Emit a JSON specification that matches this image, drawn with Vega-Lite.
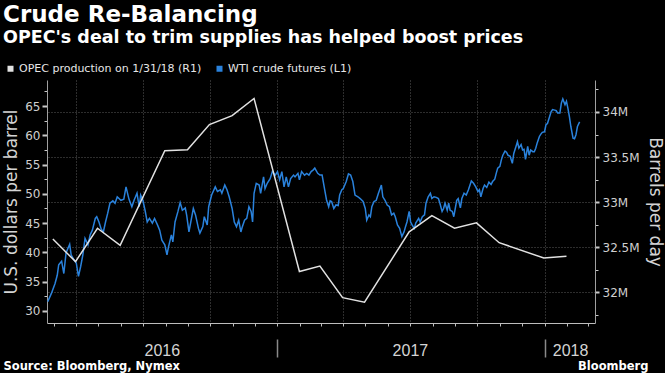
{
  "$schema": "https://vega.github.io/schema/vega-lite/v6.json",
  "width": 548,
  "height": 243,
  "autosize": {"type": "none"},
  "padding": {"left": 47, "top": 80, "right": 70, "bottom": 50},
  "background": "#000000",
  "title": {
    "text": "Crude Re-Balancing",
    "subtitle": "OPEC's deal to trim supplies has helped boost prices",
    "anchor": "start",
    "frame": "group",
    "dx": -44,
    "offset": 17,
    "font": "DejaVu Sans",
    "fontSize": 23,
    "fontWeight": "bold",
    "color": "#ffffff",
    "subtitleFont": "DejaVu Sans",
    "subtitleFontSize": 17.5,
    "subtitleFontWeight": "bold",
    "subtitleColor": "#ffffff",
    "subtitlePadding": 2
  },
  "datasets": {
    "wti": [
      {"date": "2016-02-22", "usd": 31.6}, {"date": "2016-02-27", "usd": 33.0}, {"date": "2016-03-03", "usd": 34.7},
      {"date": "2016-03-06", "usd": 36.1}, {"date": "2016-03-08", "usd": 37.9}, {"date": "2016-03-10", "usd": 38.2},
      {"date": "2016-03-12", "usd": 38.5}, {"date": "2016-03-15", "usd": 36.4}, {"date": "2016-03-18", "usd": 39.9},
      {"date": "2016-03-23", "usd": 41.4}, {"date": "2016-03-25", "usd": 39.6}, {"date": "2016-03-29", "usd": 38.7},
      {"date": "2016-04-01", "usd": 38.2}, {"date": "2016-04-04", "usd": 35.9}, {"date": "2016-04-07", "usd": 37.6},
      {"date": "2016-04-10", "usd": 39.6}, {"date": "2016-04-13", "usd": 42.4}, {"date": "2016-04-17", "usd": 41.3},
      {"date": "2016-04-20", "usd": 43.0}, {"date": "2016-04-23", "usd": 43.8}, {"date": "2016-04-27", "usd": 45.8},
      {"date": "2016-04-29", "usd": 46.1}, {"date": "2016-05-02", "usd": 45.2}, {"date": "2016-05-05", "usd": 44.0},
      {"date": "2016-05-08", "usd": 43.5}, {"date": "2016-05-11", "usd": 45.2}, {"date": "2016-05-14", "usd": 46.7},
      {"date": "2016-05-17", "usd": 48.4}, {"date": "2016-05-21", "usd": 48.8}, {"date": "2016-05-24", "usd": 48.4},
      {"date": "2016-05-27", "usd": 49.5}, {"date": "2016-06-01", "usd": 48.9}, {"date": "2016-06-05", "usd": 49.1},
      {"date": "2016-06-08", "usd": 51.2}, {"date": "2016-06-12", "usd": 49.1}, {"date": "2016-06-16", "usd": 47.8},
      {"date": "2016-06-19", "usd": 48.9}, {"date": "2016-06-21", "usd": 49.5}, {"date": "2016-06-23", "usd": 50.1},
      {"date": "2016-06-26", "usd": 47.8}, {"date": "2016-06-28", "usd": 49.8}, {"date": "2016-07-01", "usd": 48.9},
      {"date": "2016-07-04", "usd": 47.2}, {"date": "2016-07-07", "usd": 45.2}, {"date": "2016-07-10", "usd": 45.8},
      {"date": "2016-07-14", "usd": 45.0}, {"date": "2016-07-17", "usd": 45.8}, {"date": "2016-07-21", "usd": 44.7},
      {"date": "2016-07-24", "usd": 43.8}, {"date": "2016-07-27", "usd": 42.1}, {"date": "2016-07-31", "usd": 41.3},
      {"date": "2016-08-03", "usd": 39.6}, {"date": "2016-08-05", "usd": 40.9}, {"date": "2016-08-09", "usd": 43.0},
      {"date": "2016-08-11", "usd": 41.8}, {"date": "2016-08-14", "usd": 45.2}, {"date": "2016-08-18", "usd": 47.0},
      {"date": "2016-08-21", "usd": 48.5}, {"date": "2016-08-24", "usd": 47.2}, {"date": "2016-08-28", "usd": 47.6},
      {"date": "2016-08-30", "usd": 46.3}, {"date": "2016-09-02", "usd": 43.5}, {"date": "2016-09-08", "usd": 47.5},
      {"date": "2016-09-11", "usd": 46.4}, {"date": "2016-09-15", "usd": 44.1}, {"date": "2016-09-17", "usd": 43.3},
      {"date": "2016-09-21", "usd": 44.4}, {"date": "2016-09-23", "usd": 46.1}, {"date": "2016-09-27", "usd": 44.7},
      {"date": "2016-09-29", "usd": 47.8}, {"date": "2016-10-03", "usd": 49.8}, {"date": "2016-10-08", "usd": 51.2},
      {"date": "2016-10-11", "usd": 50.4}, {"date": "2016-10-15", "usd": 50.7}, {"date": "2016-10-17", "usd": 50.1},
      {"date": "2016-10-21", "usd": 51.5}, {"date": "2016-10-24", "usd": 50.7}, {"date": "2016-10-27", "usd": 49.5},
      {"date": "2016-10-31", "usd": 47.5}, {"date": "2016-11-03", "usd": 45.2}, {"date": "2016-11-06", "usd": 44.4},
      {"date": "2016-11-09", "usd": 45.5}, {"date": "2016-11-12", "usd": 43.5}, {"date": "2016-11-14", "usd": 44.4},
      {"date": "2016-11-17", "usd": 45.5}, {"date": "2016-11-20", "usd": 45.8}, {"date": "2016-11-23", "usd": 47.8},
      {"date": "2016-11-26", "usd": 47.0}, {"date": "2016-11-28", "usd": 45.2}, {"date": "2016-11-30", "usd": 50.1},
      {"date": "2016-12-03", "usd": 51.8}, {"date": "2016-12-07", "usd": 51.5}, {"date": "2016-12-09", "usd": 50.1},
      {"date": "2016-12-13", "usd": 52.9}, {"date": "2016-12-15", "usd": 50.9}, {"date": "2016-12-18", "usd": 51.8},
      {"date": "2016-12-22", "usd": 52.6}, {"date": "2016-12-25", "usd": 53.8}, {"date": "2016-12-29", "usd": 53.2},
      {"date": "2017-01-01", "usd": 53.8}, {"date": "2017-01-04", "usd": 52.4}, {"date": "2017-01-07", "usd": 53.8},
      {"date": "2017-01-10", "usd": 51.2}, {"date": "2017-01-13", "usd": 52.9}, {"date": "2017-01-16", "usd": 51.2},
      {"date": "2017-01-19", "usd": 52.6}, {"date": "2017-01-23", "usd": 53.2}, {"date": "2017-01-25", "usd": 52.9},
      {"date": "2017-01-29", "usd": 53.5}, {"date": "2017-01-31", "usd": 52.4}, {"date": "2017-02-03", "usd": 53.8},
      {"date": "2017-02-07", "usd": 53.2}, {"date": "2017-02-10", "usd": 53.5}, {"date": "2017-02-13", "usd": 53.2},
      {"date": "2017-02-16", "usd": 53.8}, {"date": "2017-02-19", "usd": 54.1}, {"date": "2017-02-21", "usd": 54.4},
      {"date": "2017-02-25", "usd": 53.5}, {"date": "2017-02-28", "usd": 53.2}, {"date": "2017-03-03", "usd": 53.2},
      {"date": "2017-03-07", "usd": 50.4}, {"date": "2017-03-09", "usd": 49.0}, {"date": "2017-03-12", "usd": 47.8},
      {"date": "2017-03-14", "usd": 48.8}, {"date": "2017-03-16", "usd": 48.7}, {"date": "2017-03-19", "usd": 47.5},
      {"date": "2017-03-22", "usd": 48.1}, {"date": "2017-03-25", "usd": 48.0}, {"date": "2017-03-27", "usd": 49.8},
      {"date": "2017-03-30", "usd": 50.7}, {"date": "2017-04-01", "usd": 50.9}, {"date": "2017-04-05", "usd": 52.1},
      {"date": "2017-04-08", "usd": 53.4}, {"date": "2017-04-11", "usd": 53.2}, {"date": "2017-04-14", "usd": 52.1},
      {"date": "2017-04-17", "usd": 49.8}, {"date": "2017-04-21", "usd": 49.5}, {"date": "2017-04-24", "usd": 49.2},
      {"date": "2017-04-28", "usd": 48.7}, {"date": "2017-05-01", "usd": 47.5}, {"date": "2017-05-03", "usd": 45.5},
      {"date": "2017-05-06", "usd": 46.4}, {"date": "2017-05-08", "usd": 46.1}, {"date": "2017-05-10", "usd": 47.8},
      {"date": "2017-05-13", "usd": 48.7}, {"date": "2017-05-16", "usd": 48.9}, {"date": "2017-05-19", "usd": 50.1},
      {"date": "2017-05-23", "usd": 51.5}, {"date": "2017-05-25", "usd": 49.5}, {"date": "2017-05-28", "usd": 48.9},
      {"date": "2017-05-31", "usd": 48.1}, {"date": "2017-06-03", "usd": 47.8}, {"date": "2017-06-06", "usd": 46.4},
      {"date": "2017-06-09", "usd": 46.7}, {"date": "2017-06-11", "usd": 46.1}, {"date": "2017-06-14", "usd": 44.7},
      {"date": "2017-06-17", "usd": 44.1}, {"date": "2017-06-20", "usd": 42.7}, {"date": "2017-06-23", "usd": 43.5},
      {"date": "2017-06-25", "usd": 44.4}, {"date": "2017-06-27", "usd": 45.2}, {"date": "2017-06-30", "usd": 47.0},
      {"date": "2017-07-02", "usd": 45.2}, {"date": "2017-07-04", "usd": 44.7}, {"date": "2017-07-07", "usd": 44.1},
      {"date": "2017-07-09", "usd": 45.0}, {"date": "2017-07-13", "usd": 45.8}, {"date": "2017-07-15", "usd": 45.2},
      {"date": "2017-07-18", "usd": 46.1}, {"date": "2017-07-21", "usd": 46.4}, {"date": "2017-07-23", "usd": 48.4},
      {"date": "2017-07-26", "usd": 49.5}, {"date": "2017-07-29", "usd": 50.1}, {"date": "2017-07-31", "usd": 49.2},
      {"date": "2017-08-03", "usd": 49.5}, {"date": "2017-08-06", "usd": 49.4}, {"date": "2017-08-09", "usd": 49.2},
      {"date": "2017-08-11", "usd": 48.4}, {"date": "2017-08-14", "usd": 47.0}, {"date": "2017-08-16", "usd": 47.5},
      {"date": "2017-08-18", "usd": 48.4}, {"date": "2017-08-21", "usd": 47.2}, {"date": "2017-08-23", "usd": 48.4},
      {"date": "2017-08-25", "usd": 47.2}, {"date": "2017-08-28", "usd": 47.0}, {"date": "2017-08-30", "usd": 46.1},
      {"date": "2017-09-01", "usd": 47.5}, {"date": "2017-09-03", "usd": 48.9}, {"date": "2017-09-05", "usd": 49.2},
      {"date": "2017-09-08", "usd": 47.6}, {"date": "2017-09-10", "usd": 49.2}, {"date": "2017-09-13", "usd": 50.1},
      {"date": "2017-09-16", "usd": 49.8}, {"date": "2017-09-19", "usd": 50.7}, {"date": "2017-09-23", "usd": 52.2},
      {"date": "2017-09-26", "usd": 51.8}, {"date": "2017-09-29", "usd": 51.2}, {"date": "2017-10-02", "usd": 50.4},
      {"date": "2017-10-04", "usd": 50.7}, {"date": "2017-10-06", "usd": 49.5}, {"date": "2017-10-09", "usd": 50.9},
      {"date": "2017-10-11", "usd": 51.5}, {"date": "2017-10-14", "usd": 51.1}, {"date": "2017-10-17", "usd": 52.0},
      {"date": "2017-10-20", "usd": 51.6}, {"date": "2017-10-22", "usd": 52.1}, {"date": "2017-10-25", "usd": 52.5},
      {"date": "2017-10-27", "usd": 53.5}, {"date": "2017-10-29", "usd": 54.4}, {"date": "2017-11-01", "usd": 54.7},
      {"date": "2017-11-03", "usd": 55.8}, {"date": "2017-11-05", "usd": 56.6}, {"date": "2017-11-08", "usd": 57.3},
      {"date": "2017-11-10", "usd": 57.1}, {"date": "2017-11-12", "usd": 56.6}, {"date": "2017-11-15", "usd": 56.4},
      {"date": "2017-11-18", "usd": 55.2}, {"date": "2017-11-20", "usd": 56.9}, {"date": "2017-11-23", "usd": 58.1},
      {"date": "2017-11-25", "usd": 58.9}, {"date": "2017-11-27", "usd": 57.8}, {"date": "2017-11-30", "usd": 58.4},
      {"date": "2017-12-02", "usd": 57.5}, {"date": "2017-12-04", "usd": 57.6}, {"date": "2017-12-06", "usd": 55.9},
      {"date": "2017-12-09", "usd": 58.1}, {"date": "2017-12-11", "usd": 56.6}, {"date": "2017-12-13", "usd": 57.5},
      {"date": "2017-12-16", "usd": 57.2}, {"date": "2017-12-18", "usd": 57.2}, {"date": "2017-12-20", "usd": 57.8},
      {"date": "2017-12-22", "usd": 58.7}, {"date": "2017-12-25", "usd": 59.8}, {"date": "2017-12-27", "usd": 60.2},
      {"date": "2017-12-29", "usd": 60.5}, {"date": "2018-01-01", "usd": 60.6}, {"date": "2018-01-03", "usd": 61.8},
      {"date": "2018-01-05", "usd": 62.0}, {"date": "2018-01-08", "usd": 63.2}, {"date": "2018-01-10", "usd": 64.0},
      {"date": "2018-01-12", "usd": 64.4}, {"date": "2018-01-15", "usd": 64.3}, {"date": "2018-01-17", "usd": 64.2},
      {"date": "2018-01-19", "usd": 63.8}, {"date": "2018-01-22", "usd": 63.8}, {"date": "2018-01-24", "usd": 65.5},
      {"date": "2018-01-26", "usd": 66.2}, {"date": "2018-01-29", "usd": 65.2}, {"date": "2018-01-31", "usd": 65.8},
      {"date": "2018-02-02", "usd": 64.6}, {"date": "2018-02-04", "usd": 63.2}, {"date": "2018-02-06", "usd": 61.5},
      {"date": "2018-02-09", "usd": 59.5}, {"date": "2018-02-11", "usd": 59.4}, {"date": "2018-02-13", "usd": 60.1},
      {"date": "2018-02-15", "usd": 61.5}, {"date": "2018-02-18", "usd": 62.3}
    ],
    "opec": [
      {"date": "2016-02-29", "mbpd": 32.59}, {"date": "2016-03-31", "mbpd": 32.34}, {"date": "2016-04-30", "mbpd": 32.71},
      {"date": "2016-05-31", "mbpd": 32.52}, {"date": "2016-07-31", "mbpd": 33.57}, {"date": "2016-08-31", "mbpd": 33.58},
      {"date": "2016-09-30", "mbpd": 33.86}, {"date": "2016-10-31", "mbpd": 33.96}, {"date": "2016-11-30", "mbpd": 34.15},
      {"date": "2017-01-31", "mbpd": 32.23}, {"date": "2017-02-28", "mbpd": 32.29}, {"date": "2017-03-31", "mbpd": 31.94},
      {"date": "2017-04-30", "mbpd": 31.89}, {"date": "2017-06-30", "mbpd": 32.67}, {"date": "2017-07-31", "mbpd": 32.85},
      {"date": "2017-08-31", "mbpd": 32.71}, {"date": "2017-09-30", "mbpd": 32.77}, {"date": "2017-10-31", "mbpd": 32.55},
      {"date": "2017-12-31", "mbpd": 32.38}, {"date": "2018-01-31", "mbpd": 32.40}
    ]
  },
  "layer": [
    {
      "data": {"name": "wti"},
      "mark": {"type": "line", "strokeWidth": 1.5},
      "encoding": {
        "x": {
          "field": "date",
          "type": "temporal",
          "scale": {
            "type": "utc",
            "domain": [
              {"year": 2016, "month": 2, "date": 21, "utc": true},
              {"year": 2018, "month": 3, "date": 11, "utc": true}
            ]
          },
          "axis": {
            "orient": "bottom",
            "tickCount": {"interval": "month", "step": 1},
            "labels": false,
            "tickSize": 3,
            "tickColor": "#bdbdbd",
            "domainColor": "#bdbdbd",
            "grid": true,
            "gridOpacity": {"condition": {"test": "utcmonth(datum.value) % 3 === 0", "value": 1}, "value": 0},
            "title": "Source: Bloomberg, Nymex",
            "titleX": -44,
            "titleY": 46,
            "titleAlign": "left",
            "titleAnchor": "start",
            "titleBaseline": "alphabetic",
            "titleFont": "DejaVu Sans",
            "titleFontWeight": "bold",
            "titleFontSize": 11.5,
            "titleColor": "#ffffff"
          }
        },
        "y": {
          "field": "usd",
          "type": "quantitative",
          "scale": {"domain": [27.95, 69.44], "nice": false, "zero": false},
          "axis": {
            "orient": "left",
            "values": [30, 32.5, 35, 37.5, 40, 42.5, 45, 47.5, 50, 52.5, 55, 57.5, 60, 62.5, 65, 67.5],
            "labelExpr": "datum.value % 5 === 0 ? datum.label : ''",
            "grid": false,
            "tickSize": {"condition": {"test": "datum.value % 5 === 0", "value": 5}, "value": 3},
            "tickWidth": {"condition": {"test": "datum.value % 5 === 0", "value": 2}, "value": 1},
            "labelPadding": 2,
            "title": "U.S. dollars per barrel",
            "titlePadding": 4
          }
        },
        "color": {
          "datum": "WTI crude futures (L1)",
          "scale": {
            "domain": ["OPEC production on 1/31/18 (R1)", "WTI crude futures (L1)"],
            "range": ["#e2e2e2", "#2a82dc"]
          },
          "legend": {
            "orient": "none",
            "legendX": -42,
            "legendY": -17,
            "direction": "horizontal",
            "title": null,
            "symbolType": "square",
            "symbolSize": 36,
            "labelFont": "DejaVu Sans",
            "labelFontSize": 11,
            "labelColor": "#e6e6e6",
            "labelOffset": 3,
            "labelLimit": 400,
            "columnPadding": 12,
            "padding": 0,
            "encode": {
              "symbols": {"update": {"fill": {"scale": "color", "field": "value"}, "strokeWidth": {"value": 0}}}
            }
          }
        }
      }
    },
    {
      "data": {"name": "opec"},
      "mark": {"type": "line", "strokeWidth": 1.5},
      "encoding": {
        "x": {
          "field": "date",
          "type": "temporal",
          "axis": {
            "orient": "bottom",
            "offset": 16,
            "domain": false,
            "grid": false,
            "values": [
              {"year": 2016, "month": 7, "date": 27, "utc": true},
              {"year": 2017, "month": 1, "date": 1, "utc": true},
              {"year": 2017, "month": 7, "date": 1, "utc": true},
              {"year": 2018, "month": 1, "date": 1, "utc": true},
              {"year": 2018, "month": 2, "date": 5, "utc": true}
            ],
            "tickSize": 18,
            "tickWidth": 1.5,
            "tickColor": "#8a8a8a",
            "tickOpacity": {"condition": {"test": "utcmonth(datum.value) === 0 && utcdate(datum.value) === 1", "value": 1}, "value": 0},
            "labelExpr": "utcmonth(datum.value) === 0 && utcdate(datum.value) === 1 ? '' : utcFormat(datum.value, '%Y')",
            "labelFont": "Liberation Sans",
            "labelFontSize": 16,
            "labelBaseline": "alphabetic",
            "labelPadding": -2,
            "labelFlush": false,
            "labelOverlap": false,
            "labelColor": "#d4d4d4",
            "title": "Bloomberg",
            "titleX": 601,
            "titleY": 30,
            "titleAlign": "right",
            "titleAnchor": "end",
            "titleBaseline": "alphabetic",
            "titleFont": "DejaVu Sans",
            "titleFontWeight": "bold",
            "titleFontSize": 11.5,
            "titleColor": "#ffffff"
          }
        },
        "y": {
          "field": "mbpd",
          "type": "quantitative",
          "scale": {"domain": [31.659, 34.355], "nice": false, "zero": false},
          "axis": {
            "orient": "right",
            "values": [31.75, 32, 32.25, 32.5, 32.75, 33, 33.25, 33.5, 33.75, 34, 34.25],
            "labelExpr": "datum.value % 0.5 === 0 ? datum.value + 'M' : ''",
            "grid": true,
            "gridOpacity": {"condition": {"test": "datum.value % 0.5 === 0", "value": 1}, "value": 0},
            "tickSize": {"condition": {"test": "datum.value % 0.5 === 0", "value": 4}, "value": 3},
            "tickWidth": {"condition": {"test": "datum.value % 0.5 === 0", "value": 2}, "value": 1},
            "labelPadding": 3,
            "title": "Barrels per day",
            "titlePadding": 6
          }
        },
        "color": {"datum": "OPEC production on 1/31/18 (R1)"}
      }
    }
  ],
  "resolve": {"scale": {"y": "independent"}, "axis": {"x": "independent"}},
  "config": {
    "view": {"stroke": null},
    "axis": {
      "domainColor": "#a0a0a0",
      "tickColor": "#c8c8c8",
      "labelColor": "#cfcfcf",
      "labelFont": "DejaVu Sans",
      "labelFontSize": 12,
      "titleColor": "#d4d4d4",
      "titleFont": "DejaVu Sans",
      "titleFontSize": 17,
      "titleFontWeight": "normal",
      "gridColor": "#5a5a5a",
      "gridDash": [1, 2],
      "gridWidth": 1
    }
  }
}
